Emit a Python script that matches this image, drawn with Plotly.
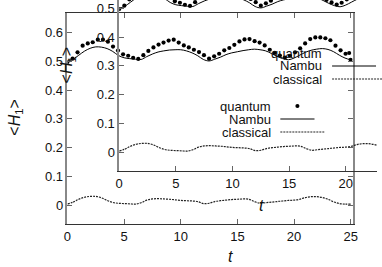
import plotly.graph_objects as go

# ---------------- data ----------------
t_quantum = [0.0, 0.45, 0.89, 1.34, 1.79, 2.23, 2.68, 3.13, 3.57, 4.02, 4.46, 4.91, 5.36, 5.8,
             6.25, 6.7, 7.14, 7.59, 8.04, 8.48, 8.93, 9.38, 9.82, 10.27, 10.71, 11.16, 11.61,
             12.05, 12.5, 12.95, 13.39, 13.84, 14.29, 14.73, 15.18, 15.63, 16.07, 16.52, 16.96,
             17.41, 17.86, 18.3, 18.75, 19.2, 19.64, 20.09, 20.54, 20.98, 21.43, 21.88, 22.32,
             22.77, 23.21, 23.66, 24.11, 24.55, 25.0]
quantum = [0.498, 0.510, 0.532, 0.555, 0.563, 0.567, 0.576, 0.576, 0.569, 0.552, 0.538, 0.525,
           0.520, 0.513, 0.509, 0.522, 0.537, 0.549, 0.559, 0.566, 0.573, 0.576, 0.566, 0.556,
           0.549, 0.541, 0.533, 0.522, 0.510, 0.518, 0.527, 0.539, 0.547, 0.558, 0.570, 0.577,
           0.578, 0.571, 0.566, 0.556, 0.541, 0.530, 0.521, 0.514, 0.520, 0.532, 0.546, 0.563,
           0.578, 0.584, 0.584, 0.581, 0.574, 0.555, 0.539, 0.527, 0.506]

t_curve = [0.0, 0.5, 1.0, 1.5, 2.0, 2.5, 3.0, 3.5, 4.0, 4.5, 5.0, 5.5, 6.0, 6.5, 7.0, 7.5, 8.0,
           8.5, 9.0, 9.5, 10.0, 10.5, 11.0, 11.5, 12.0, 12.5, 13.0, 13.5, 14.0, 14.5, 15.0, 15.5,
           16.0, 16.5, 17.0, 17.5, 18.0, 18.5, 19.0, 19.5, 20.0, 20.5, 21.0, 21.5, 22.0, 22.5,
           23.0, 23.5, 24.0, 24.5, 25.0]
nambu = [0.500, 0.508, 0.522, 0.536, 0.546, 0.551, 0.550, 0.545, 0.535, 0.521, 0.513, 0.510,
         0.508, 0.507, 0.517, 0.526, 0.533, 0.537, 0.540, 0.541, 0.541, 0.537, 0.530, 0.520,
         0.507, 0.502, 0.508, 0.515, 0.524, 0.530, 0.534, 0.538, 0.541, 0.543, 0.541, 0.537,
         0.528, 0.518, 0.510, 0.506, 0.512, 0.522, 0.532, 0.539, 0.543, 0.545, 0.542, 0.534,
         0.522, 0.512, 0.506]
classical = [0.003, 0.010, 0.020, 0.027, 0.030, 0.030, 0.025, 0.016, 0.009, 0.006, 0.005, 0.004,
             0.003, 0.008, 0.017, 0.021, 0.022, 0.021, 0.020, 0.018, 0.016, 0.015, 0.014, 0.012,
             0.005, 0.006, 0.012, 0.015, 0.017, 0.019, 0.020, 0.021, 0.020, 0.012, 0.006, 0.008,
             0.010, 0.012, 0.014, 0.016, 0.017, 0.020, 0.026, 0.029, 0.029, 0.026, 0.020, 0.011,
             0.005, 0.003, 0.003]

x_ticks = [0, 5, 10, 15, 20, 25]
x_tick_labels = ["0", "5", "10", "15", "20", "25"]
y_ticks = [0, 0.1, 0.2, 0.3, 0.4, 0.5, 0.6]
y_tick_labels = ["0", "0.1", "0.2", "0.3", "0.4", "0.5", "0.6"]
legend_labels = ["quantum", "Nambu", "classical"]
x_title = "<i>t</i>"
y_title = "&lt;<i>H</i><sub>1</sub>&gt;"

# ---------------- figure ----------------
W, H = 382, 267
FONT = "Liberation Sans, Arial, sans-serif"


def px(x):
    return x / W


def py(y):
    return 1 - y / H


fig = go.Figure()
for xa, ya in (("x", "y"), ("x2", "y2")):
    fig.add_trace(go.Scatter(x=t_curve, y=classical, mode="lines", xaxis=xa, yaxis=ya,
                             line=dict(color="#222222", width=1.2, dash="2px,1px", shape="spline"),
                             showlegend=False, hoverinfo="skip"))
    fig.add_trace(go.Scatter(x=t_curve, y=nambu, mode="lines", xaxis=xa, yaxis=ya,
                             line=dict(color="#000000", width=1, shape="spline"),
                             showlegend=False, hoverinfo="skip"))
    fig.add_trace(go.Scatter(x=t_quantum, y=quantum, mode="markers", xaxis=xa, yaxis=ya,
                             marker=dict(color="#000000", size=4.2),
                             showlegend=False, hoverinfo="skip"))

tickfont = dict(family=FONT, size=13, color="#111111")
common = dict(ticks="inside", ticklen=5, tickwidth=1, tickcolor="#666666", showgrid=False,
              zeroline=False, showline=True, tickfont=tickfont)

fig.update_layout(
    width=W, height=H, margin=dict(l=0, r=0, t=0, b=0),
    paper_bgcolor="white", plot_bgcolor="rgba(0,0,0,0)",
    showlegend=False,
    xaxis=dict(domain=[px(65), px(357)], range=[0, 25.17], anchor="y",
               tickvals=x_ticks, ticktext=x_tick_labels, mirror="ticks",
               linecolor="#333333", linewidth=1, **common),
    yaxis=dict(domain=[py(224), py(13)], range=[-0.0662, 0.669], anchor="x",
               tickvals=y_ticks, ticktext=y_tick_labels, mirror="ticks",
               linecolor="#888888", linewidth=1.5, **common),
    xaxis2=dict(domain=[px(118), 1], range=[0, 22.76], anchor="y2",
                tickvals=x_ticks, ticktext=x_tick_labels, mirror=False,
                linecolor="#333333", linewidth=1, **common),
    yaxis2=dict(domain=[py(171), 1], range=[-0.0662, 0.5296], anchor="x2",
                tickvals=y_ticks, ticktext=y_tick_labels, mirror=False,
                linecolor="#888888", linewidth=1.5, **common),
)

annotations = []
shapes = []
title_font = dict(family=FONT, size=16, color="#111111")
# axis titles (main, then inset)
for (tx, ty), (hx, hy) in (((232, 256), (12, 118)), ((264, 205), (65, 65))):
    annotations.append(dict(text=x_title, x=px(tx), y=py(ty), xref="paper", yref="paper",
                            showarrow=False, font=title_font, xanchor="center", yanchor="middle"))
    annotations.append(dict(text=y_title, x=px(hx), y=py(hy), xref="paper", yref="paper",
                            showarrow=False, font=title_font, textangle=-90,
                            xanchor="center", yanchor="middle"))
# keys (main, then inset)
for dx, dy in ((0, 0), (53, -53)):
    rows = [106 + dy, 119 + dy, 132 + dy]
    for label, yy in zip(legend_labels, rows):
        annotations.append(dict(text=label, x=px(275 + dx), y=py(yy), xref="paper", yref="paper",
                                showarrow=False, font=dict(family=FONT, size=13, color="#111111"),
                                xanchor="right", yanchor="middle"))
    x0, x1 = 283 + dx, 318 + dx + (10 if dx else 0)
    cx = 300.5 + dx
    shapes.append(dict(type="circle", xref="paper", yref="paper",
                       x0=px(cx - 2.1), x1=px(cx + 2.1), y0=py(rows[0] + 2.1), y1=py(rows[0] - 2.1),
                       fillcolor="#000000", line=dict(width=0)))
    shapes.append(dict(type="line", xref="paper", yref="paper", x0=px(x0), x1=px(x1),
                       y0=py(rows[1]), y1=py(rows[1]), line=dict(color="#000000", width=1)))
    shapes.append(dict(type="line", xref="paper", yref="paper", x0=px(x0), x1=px(x1 + 10),
                       y0=py(rows[2]), y1=py(rows[2]),
                       line=dict(color="#222222", width=1.2, dash="2px,1px")))

fig.update_layout(annotations=annotations, shapes=shapes)
fig.write_html("out.html", config={"displayModeBar": False},
               post_script="document.body.style.margin='0';document.body.style.padding='0';"
                           "document.body.style.overflow='hidden';")
